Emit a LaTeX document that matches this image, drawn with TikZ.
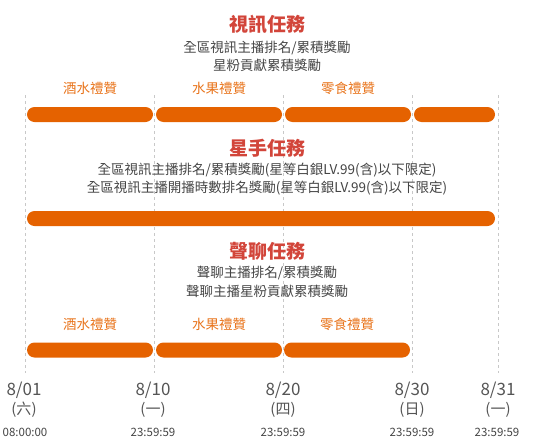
\documentclass[tikz,border=0pt]{standalone}
\usepackage{fontspec}
\setmainfont{Noto Sans CJK TC}
\definecolor{titlered}{HTML}{D2453A}
\definecolor{barorange}{HTML}{E56200}
\definecolor{giftorange}{HTML}{E8731A}
\definecolor{textgray}{HTML}{444444}
\definecolor{dategray}{HTML}{555555}
\definecolor{guidegray}{HTML}{C8C8C8}

\begin{document}
\begin{tikzpicture}
    [x=1pt,y=-1pt,every node/.style={inner sep=0pt},
     title/.style={font=\fontsize{19}{19}\selectfont\bfseries,text=titlered},
     desc/.style={font=\fontsize{13.5}{13.5}\selectfont,text=textgray},
     gift/.style={font=\fontsize{13.5}{13.5}\selectfont,text=giftorange},
     bar/.style={fill=barorange,rounded corners=7.5pt,minimum height=15pt},
     guide/.style={draw=guidegray,dashed,line width=0.6pt},
     date/.style={font=\fontsize{17}{17}\selectfont,text=dategray},
     day/.style={font=\fontsize{15}{15}\selectfont,text=dategray},
     clock/.style={font=\fontsize{11.5}{11.5}\selectfont,text=textgray}]
    \useasboundingbox (0,0) rectangle (534,439);

    % dashed day marks
    \coordinate (g1t) at (25,95);  \coordinate (g1b) at (25,373);
    \coordinate (g2t) at (154,95); \coordinate (g2b) at (154,373);
    \coordinate (g3t) at (283,95); \coordinate (g3b) at (283,373);
    \coordinate (g4t) at (412,95); \coordinate (g4b) at (412,373);
    \coordinate (g5t) at (498,95); \coordinate (g5b) at (498,373);
    \draw[guide] (g1t) -- (g1b);
    \draw[guide] (g2t) -- (g2b);
    \draw[guide] (g3t) -- (g3b);
    \draw[guide] (g4t) -- (g4b);
    \draw[guide] (g5t) -- (g5b);

    % video tasks
    \node[title] (video) at (267,24) {視訊任務};
    \node[desc] (video1) at (267,48) {全區視訊主播排名/累積獎勵};
    \node[desc] (video2) at (267,65) {星粉貢獻累積獎勵};
    \node[gift] (vgift1) at (90,88) {酒水禮贊};
    \node[gift] (vgift2) at (219,88) {水果禮贊};
    \node[gift] (vgift3) at (348,88) {零食禮贊};
    \node[bar,minimum width=126pt] (vbar1) at (90,114.5) {};
    \node[bar,minimum width=126pt] (vbar2) at (219,114.5) {};
    \node[bar,minimum width=126pt] (vbar3) at (348,114.5) {};
    \node[bar,minimum width=81pt] (vbar4) at (454.5,114.5) {};

    % star tasks
    \node[title] (star) at (267,148.5) {星手任務};
    \node[desc] (star1) at (267,170) {全區視訊主播排名/累積獎勵(星等白銀LV.99(含)以下限定)};
    \node[desc] (star2) at (267,188) {全區視訊主播開播時數排名獎勵(星等白銀LV.99(含)以下限定)};
    \node[bar,minimum width=468pt] (sbar) at (261,218.5) {};

    % voice tasks
    \node[title] (voice) at (267,251) {聲聊任務};
    \node[desc] (voice1) at (267,273) {聲聊主播排名/累積獎勵};
    \node[desc] (voice2) at (267,291) {聲聊主播星粉貢獻累積獎勵};
    \node[gift] (cgift1) at (90,324) {酒水禮贊};
    \node[gift] (cgift2) at (219,324) {水果禮贊};
    \node[gift] (cgift3) at (347,324) {零食禮贊};
    \node[bar,minimum width=126pt] (cbar1) at (90,350) {};
    \node[bar,minimum width=126pt] (cbar2) at (219,350) {};
    \node[bar,minimum width=126pt] (cbar3) at (347,350) {};

    % dates
    \node[date] (d1) at (24,390) {8/01};
    \node[date] (d2) at (153,390) {8/10};
    \node[date] (d3) at (283,390) {8/20};
    \node[date] (d4) at (412,390) {8/30};
    \node[date] (d5) at (498,390) {8/31};
    \node[day] (w1) at (24,410) {(六)};
    \node[day] (w2) at (153,410) {(一)};
    \node[day] (w3) at (283,410) {(四)};
    \node[day] (w4) at (412,410) {(日)};
    \node[day] (w5) at (498,410) {(一)};
    \node[clock] (t1) at (25,432) {08:00:00};
    \node[clock] (t2) at (153,432) {23:59:59};
    \node[clock] (t3) at (283,432) {23:59:59};
    \node[clock] (t4) at (412,432) {23:59:59};
    \node[clock] (t5) at (497,432) {23:59:59};
  \end{tikzpicture}
\end{document}
